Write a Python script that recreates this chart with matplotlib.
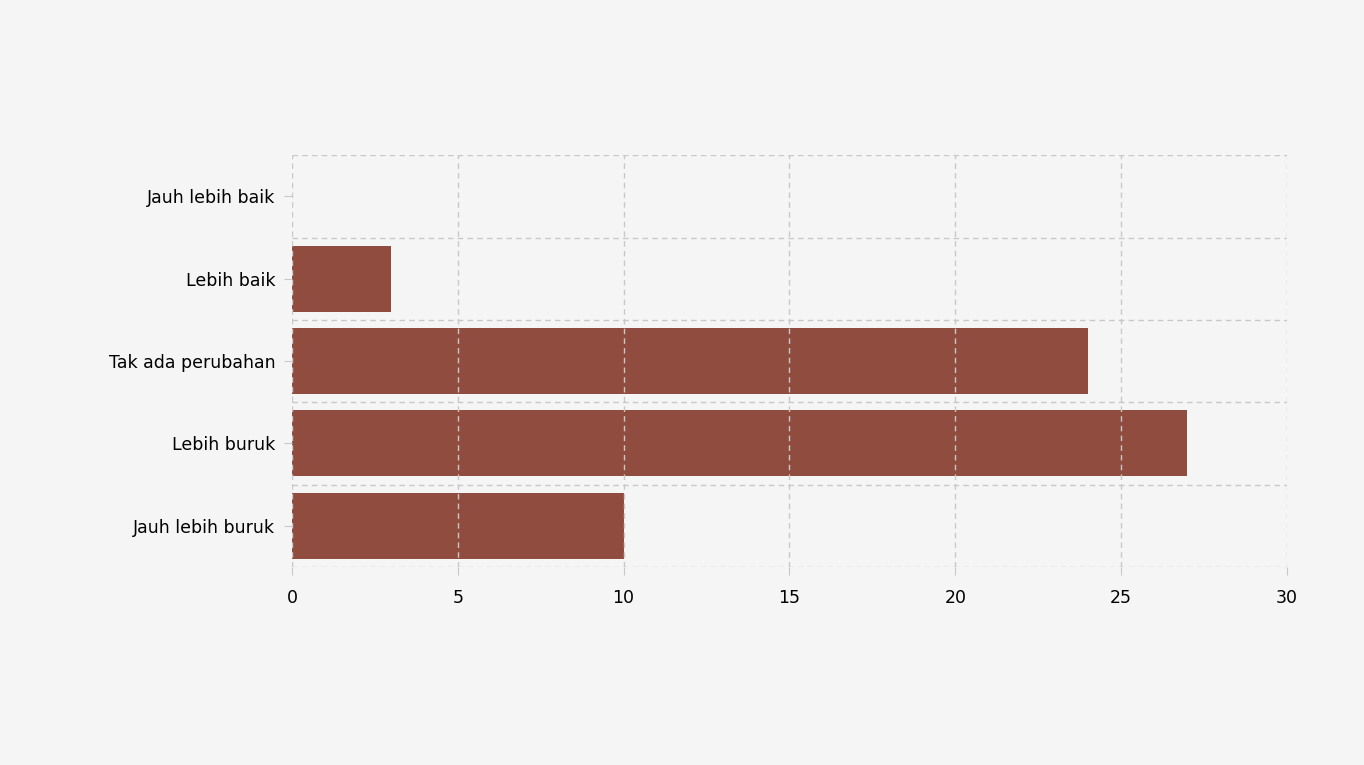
import numpy as np
import matplotlib.pyplot as plt

categories = ["Jauh lebih buruk", "Lebih buruk", "Tak ada perubahan", "Lebih baik", "Jauh lebih baik"]
values = [10, 27, 24, 3, 0]

fig = plt.figure(figsize=(13.64, 7.65), dpi=100, facecolor="#f5f5f5")
ax = fig.add_axes([0.214, 0.259, 0.7295, 0.538], facecolor="#f5f5f5")

y = np.arange(len(categories))
ax.barh(y, values, height=0.8, color="#8f4c3f", zorder=1)

ax.set_xlim(0, 30)
ax.set_ylim(-0.5, len(categories) - 0.5)
ax.set_xticks(range(0, 31, 5))
ax.set_yticks(y)
ax.set_yticklabels(categories)
ax.set_yticks(np.arange(-0.5, len(categories), 1), minor=True)

ax.grid(axis="x", which="major", linestyle=(0, (4, 3)), color="#c8c8c8", linewidth=1, zorder=2)
ax.grid(axis="y", which="minor", linestyle=(0, (4, 3)), color="#c8c8c8", linewidth=1, zorder=2)
ax.set_axisbelow(False)
for s in ax.spines.values():
    s.set_visible(False)

ax.tick_params(axis="both", which="major", labelsize=12.5, length=6, color="#c8c8c8", pad=6)
ax.tick_params(axis="y", which="minor", length=0)
ax.tick_params(axis="x", pad=10)

fig.savefig("out.png", dpi=100, facecolor=fig.get_facecolor())
